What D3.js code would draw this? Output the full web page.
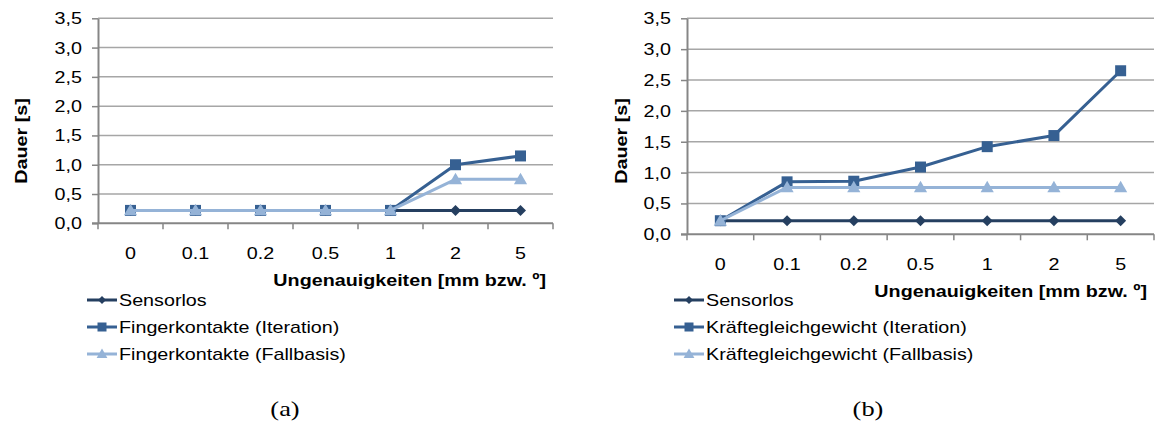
<!DOCTYPE html>
<html>
<head>
<meta charset="utf-8">
<script src="https://cdn.jsdelivr.net/npm/d3@7"></script>
<style>
  html, body { margin: 0; padding: 0; background: #fff; }
  svg { display: block; }
  text { font-family: "Liberation Sans", Arial, sans-serif; fill: #000; }
</style>
</head>
<body>
<svg id="chart" width="1155" height="423"></svg>
<script>
// Accuracy levels on the x axis (mm or degrees)
const categories = ["0", "0.1", "0.2", "0.5", "1", "2", "5"];
const yTicks = [0, 0.5, 1.0, 1.5, 2.0, 2.5, 3.0, 3.5];

// Panel (a): finger contacts
const aSensorlos = [0.22, 0.22, 0.22, 0.22, 0.22, 0.22, 0.22];
const aIteration = [0.22, 0.22, 0.22, 0.22, 0.22, 1.00, 1.15];
const aFallbasis = [0.22, 0.22, 0.22, 0.22, 0.22, 0.75, 0.75];

// Panel (b): force equilibrium
const bSensorlos = [0.22, 0.22, 0.22, 0.22, 0.22, 0.22, 0.22];
const bIteration = [0.22, 0.85, 0.86, 1.09, 1.42, 1.60, 2.65];
const bFallbasis = [0.22, 0.76, 0.76, 0.76, 0.76, 0.76, 0.76];

const namesA = ["Sensorlos", "Fingerkontakte (Iteration)", "Fingerkontakte (Fallbasis)"];
const namesB = ["Sensorlos", "Kräftegleichgewicht (Iteration)", "Kräftegleichgewicht (Fallbasis)"];

const colors = ["#253F60", "#366092", "#95B3D7"];
const markers = ["diamond", "square", "triangle"];

const svg = d3.select("#chart");
const fmt = d => d3.format(".1f")(d).replace(".", ",");

// Wide sans lettering: glyphs are stretched along the baseline
const STRETCH = 1.16;
function label(g, x, y, str, o = {}) {
  const rot = o.rotate ? ` rotate(${o.rotate})` : "";
  return g.append("text")
    .attr("transform", `translate(${x},${y})${rot} scale(${o.sx || STRETCH},1)`)
    .attr("text-anchor", o.anchor || "start")
    .attr("font-size", o.size || 17)
    .attr("font-weight", o.bold ? "bold" : null)
    .attr("dy", o.dy || null)
    .style("font-family", o.serif ? "'Liberation Serif', 'Times New Roman', serif" : null)
    .text(str);
}

function marker(sel, type, color, s) {
  if (type === "diamond") {
    sel.append("path").attr("d", `M0,${-s}L${s},0L0,${s}L${-s},0Z`).attr("fill", color);
  } else if (type === "square") {
    sel.append("rect").attr("x", -s).attr("y", -s).attr("width", 2 * s).attr("height", 2 * s).attr("fill", color);
  } else {
    sel.append("path").attr("d", `M0,${-s * 1.2}L${s * 1.2},${s * 0.9}L${-s * 1.2},${s * 0.9}Z`).attr("fill", color);
  }
}

function drawPanel(p) {
  const g = svg.append("g");
  const x = d3.scaleBand().domain(categories).range([p.left, p.right]);
  const y = d3.scaleLinear().domain([0, 3.5]).range([p.bottom, p.top]);

  // horizontal gridlines
  g.append("g").selectAll("line").data(yTicks.slice(1)).join("line")
    .attr("x1", p.left).attr("x2", p.right)
    .attr("y1", d => y(d)).attr("y2", d => y(d))
    .attr("stroke", "#A6A6A6").attr("stroke-width", 1.5);

  // y axis
  const yAxis = g.append("g").attr("transform", `translate(${p.left},0)`)
    .call(d3.axisLeft(y).tickValues(yTicks).tickFormat("").tickSize(6).tickSizeOuter(0));
  yAxis.select(".domain").attr("stroke", "#868686").attr("stroke-width", 2);
  yAxis.selectAll(".tick line").attr("stroke", "#868686").attr("stroke-width", 1.5);
  yTicks.forEach(t => label(g, p.left - 16, y(t), fmt(t), { anchor: "end", dy: "0.35em" }));

  // x axis with ticks between categories
  const xAxis = g.append("g").attr("transform", `translate(0,${p.bottom})`);
  xAxis.append("line").attr("x1", p.left - 6).attr("x2", p.right)
    .attr("stroke", "#868686").attr("stroke-width", 2);
  const bounds = categories.map(c => x(c)).concat([p.right]);
  xAxis.selectAll(".tk").data(bounds).join("line").attr("class", "tk")
    .attr("x1", d => d).attr("x2", d => d).attr("y1", 0).attr("y2", 6)
    .attr("stroke", "#868686").attr("stroke-width", 1.5);
  categories.forEach(c => label(g, x(c) + x.bandwidth() / 2, p.bottom + 36, c, { anchor: "middle" }));

  // axis titles
  label(g, p.right - 7, p.bottom + 62.5, "Ungenauigkeiten [mm bzw. º]", { anchor: "end", bold: true });
  label(g, p.yTitleX, 141, "Dauer [s]", { anchor: "middle", bold: true, rotate: -90 });

  // series
  const cx = c => x(c) + x.bandwidth() / 2;
  p.series.forEach((vals, i) => {
    const pts = categories.map((c, j) => [cx(c), y(vals[j])]);
    g.append("path").attr("d", d3.line()(pts)).attr("fill", "none")
      .attr("stroke", colors[i]).attr("stroke-width", 3).attr("stroke-linejoin", "round");
    pts.forEach(pt => {
      const m = g.append("g").attr("transform", `translate(${pt[0]},${pt[1]})`);
      marker(m, markers[i], colors[i], 5.5);
    });
  });

  // legend
  p.names.forEach((n, i) => {
    const ly = p.legendY + i * 27;
    const lg = g.append("g");
    lg.append("line").attr("x1", p.legendX).attr("x2", p.legendX + 30)
      .attr("y1", ly).attr("y2", ly).attr("stroke", colors[i]).attr("stroke-width", 3);
    const m = lg.append("g").attr("transform", `translate(${p.legendX + 15},${ly})`);
    marker(m, markers[i], colors[i], i === 0 ? 4 : 4.5);
    label(lg, p.legendX + 32, ly, n, { dy: "0.36em" });
  });

  // panel caption
  label(svg, p.captionX, 416, p.caption, { anchor: "middle", size: 22, serif: true, sx: 1.2 });
}

drawPanel({
  left: 98, right: 553, top: 18.3, bottom: 223.3, yTitleX: 27,
  series: [aSensorlos, aIteration, aFallbasis], names: namesA,
  legendX: 87, legendY: 300, captionX: 285, caption: "(a)"
});
drawPanel({
  left: 687, right: 1154, top: 18.3, bottom: 234.3, yTitleX: 627,
  series: [bSensorlos, bIteration, bFallbasis], names: namesB,
  legendX: 674, legendY: 300, captionX: 868, caption: "(b)"
});
</script>
</body>
</html>
